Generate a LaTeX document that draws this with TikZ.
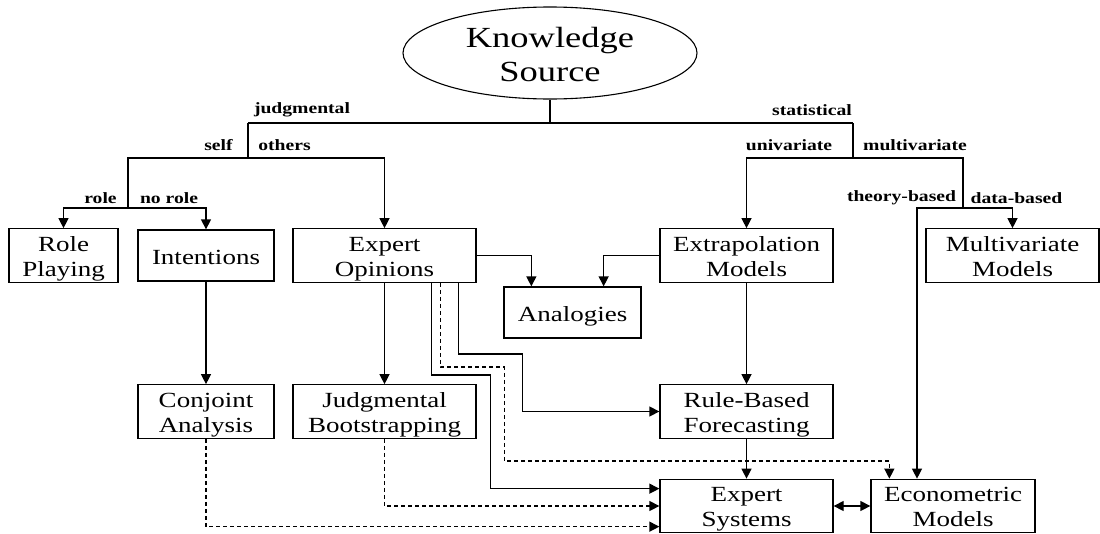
\documentclass[tikz,border=0pt]{standalone}
\usepackage{fontspec}
\setmainfont{Liberation Serif}[FakeStretch=1.25]
\usetikzlibrary{shapes.geometric,arrows.meta}
\begin{document}
\begin{tikzpicture}[
    x=1pt, y=-1pt,
    every node/.append style={font=\rmfamily},  % Times 宽度的衬线字体
    % 方框样式
    method/.style={draw, line width=1.3pt, minimum height=51pt, inner sep=0pt, align=center, font=\fontsize{21.6}{25}\selectfont,
        text height=23.5pt, text depth=6pt},
    twoline/.style={method, text height=47.4pt},
    source/.style={draw, line width=1.1pt, ellipse, minimum width=294pt, minimum height=92pt, inner sep=0pt, align=center, font=\fontsize{29.2}{34}\selectfont,
        text height=57.4pt, text depth=0pt},
    branch/.style={inner sep=0pt, font=\bfseries\fontsize{15.7}{18}\selectfont},
    tree/.style={line width=1.3pt},
    arrow/.style={-{Triangle[length=10pt,width=10pt]}, line width=1.3pt},
    dasharrow/.style={arrow, dash pattern=on 4pt off 3pt},
    botharrow/.style={{Triangle[length=10pt,width=10pt]}-{Triangle[length=10pt,width=10pt]}, line width=1.3pt},
]
\useasboundingbox (0,0) rectangle (1100,533);

% ========== 根节点 ==========
\node[source] (ks) at (550, 53) {Knowledge\\Source};

% ========== 分支坐标 ==========
\coordinate (jt) at (248, 123);
\coordinate (st) at (853, 123);
\coordinate (so) at (248, 158);
\coordinate (um) at (853, 158);
\coordinate (rl) at (128, 208);
\coordinate (mb) at (963, 208);
\coordinate (tb) at (917, 208);

% ========== 分支标签 ==========
\node[branch] (judg) at (302, 110) {judgmental};
\node[branch] (stat) at (812, 110) {statistical};
\node[branch] (self) at (218.5, 145) {self};
\node[branch] (others) at (284.5, 145) {others};
\node[branch] (univ) at (789, 145) {univariate};
\node[branch] (multiv) at (915, 145) {multivariate};
\node[branch] (role) at (100.5, 198) {role};
\node[branch] (norole) at (169, 198) {no role};
\node[branch] (theory) at (901.5, 198) {theory-based};
\node[branch] (data) at (1016.5, 198) {data-based};

% ========== 第一行 ==========
\node[twoline, minimum width=109pt] (roleplay) at (63.5, 255.5) {Role\\Playing};
\node[method, minimum width=136pt] (intent) at (206, 255.5) {Intentions};
\node[twoline, minimum width=183pt] (expop) at (384.5, 255.5) {Expert\\Opinions};
\node[twoline, minimum width=173pt] (extrap) at (746.5, 255.5) {Extrapolation\\Models};
\node[twoline, minimum width=173pt] (multi) at (1012.5, 255.5) {Multivariate\\Models};

% 类比
\node[method, minimum width=137pt] (analog) at (572.5, 312.5) {Analogies};

% ========== 第二行 ==========
\node[twoline, minimum width=136pt] (conj) at (206, 411.5) {Conjoint\\Analysis};
\node[twoline, minimum width=183pt] (jboot) at (384.5, 411.5) {Judgmental\\Bootstrapping};
\node[twoline, minimum width=173pt] (rule) at (746.5, 411.5) {Rule-Based\\Forecasting};

% ========== 第三行 ==========
\node[twoline, minimum width=173pt, minimum height=52pt] (expsys) at (746.5, 506) {Expert\\Systems};
\node[twoline, minimum width=164pt, minimum height=52pt] (econ) at (953, 506) {Econometric\\Models};

% ========== 树形分支 ==========
\draw[tree] (ks.south) -- (ks.south |- jt);
\draw[tree] (jt) -- (st);
\draw[tree] (jt) -- (so);
\draw[tree] (st) -- (um);
\draw[arrow] (rl) |- (so) -| (expop.north);
\draw[arrow] (rl) -| (roleplay.north);
\draw[arrow] (rl) -| (intent.north);
\draw[arrow] (mb) |- (um) -| (extrap.north);
\draw[arrow] (mb) -| (multi.north);
\draw[arrow] (mb) -- (tb) -- (tb |- econ.north);

% ========== 方法之间的连接 ==========
\draw[arrow] (intent.south) -- (conj.north);
\draw[arrow] (expop.south) -- (jboot.north);
\draw[arrow] (expop.east) -| ([xshift=28]analog.north west);
\draw[arrow] (extrap.west) -| ([xshift=-38]analog.north east);
\draw[arrow] (extrap.south) -- (rule.north);
\draw[arrow] (rule.south) -- (expsys.north);
\draw[botharrow] (expsys.east) -- (econ.west);

% 专家意见向下的三条线
\draw[arrow] ([xshift=166]expop.south west) |- ++(64, 71) |- (rule.west);
\draw[dasharrow] ([xshift=148]expop.south west) |- ++(64, 84) |- ++(385, 94) -- ([xshift=19]econ.north west);
\draw[arrow] ([xshift=139]expop.south west) |- ++(59, 92) |- ([yshift=-10]expsys.north west);

% 虚线输入专家系统
\draw[dasharrow] (jboot.south) |- (expsys.west);
\draw[dasharrow] (conj.south) |- ([yshift=-48]expsys.north west);

\end{tikzpicture}
\end{document}
